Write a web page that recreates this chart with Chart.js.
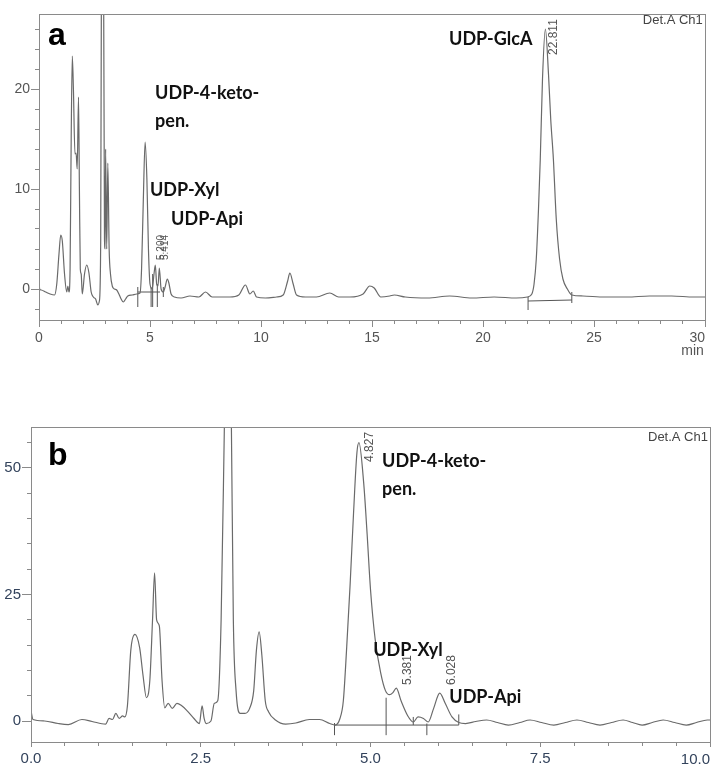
<!DOCTYPE html>
<html>
<head>
<meta charset="utf-8">
<script src="https://cdn.jsdelivr.net/npm/chart.js@4.4.0/dist/chart.umd.min.js"></script>
<style>
  html, body { margin: 0; padding: 0; background: #fff; }
  body { width: 711px; height: 769px; position: relative; overflow: hidden; }
  canvas { position: absolute; left: 0; }
  #chartA { top: 0; }
  #chartB { top: 380px; }
</style>
</head>
<body>
<canvas id="chartA" width="711" height="360"></canvas>
<canvas id="chartB" width="711" height="389"></canvas>
<script>
// ---- panel a : full run, 0-30 min ----
const timeA = [0, 0.03, 0.1, 0.3, 0.5, 0.7, 0.8, 0.9, 0.98, 1.05, 1.15, 1.25, 1.3, 1.35, 1.4, 1.45, 1.5, 1.55, 1.62, 1.67,
  1.72, 1.78, 1.82, 1.86, 1.9, 1.95, 2.05, 2.15, 2.25, 2.35, 2.45, 2.55, 2.65, 2.72, 2.78, 2.82, 2.86, 2.9, 2.95, 2.98,
  3.0, 3.05, 3.1, 3.16, 3.22, 3.3, 3.4, 3.5, 3.6, 3.7, 3.8, 3.9, 4.0, 4.2, 4.4, 4.55, 4.62, 4.7, 4.78, 4.86,
  4.93, 5.0, 5.1, 5.18, 5.24, 5.3, 5.36, 5.42, 5.5, 5.6, 5.68, 5.78, 5.85, 5.95, 6.1, 6.4, 6.8, 7.2, 7.5, 7.8,
  8.2, 8.6, 9.0, 9.3, 9.5, 9.65, 9.8, 10.2, 10.7, 11.0, 11.2, 11.3, 11.45, 11.6, 12.0, 12.5, 13.1, 13.5, 14.0, 14.6,
  14.9, 15.1, 15.4, 15.8, 16.0, 16.5, 17.5, 18.5, 19.5, 20.5, 21.5, 22.0, 22.2, 22.3, 22.4, 22.5, 22.58, 22.68, 22.81, 22.95,
  23.05, 23.17, 23.3, 23.45, 23.6, 23.8, 24.0, 24.5, 25.5, 26.5, 27.5, 28.5, 29.5, 30.0];
const signalA = [0.8, 0, -0.1, -0.3, -0.5, -0.6, 0.5, 3.5, 5.4, 4.8, 1.5, -0.3, 0.3, -0.3, 2, 15, 23.3, 20, 13.5, 13.6,
  12, 19.2, 10, 2, 1.5, -0.5, 1.5, 2.4, 1.6, -0.3, -0.8, -1.0, -1.6, -1.2, 5, 40, 80, 40, 5, 4,
  14, 4, 12.6, 4, 1.5, 0.3, 0, -0.1, -0.5, -1.0, -1.3, -1.0, -0.7, -0.6, -0.5, -0.4, 2, 9, 14.7, 11,
  4, 0.5, 0, 1.5, 2.4, 0.5, 0.3, 2.1, 0, -0.3, 0.2, 1.0, 0.6, -0.5, -0.8, -0.9, -0.7, -0.8, -0.3, -0.8,
  -0.8, -0.8, -0.6, 0.4, -0.5, -0.2, -0.8, -0.9, -0.8, -0.6, 0.8, 1.6, 0.5, -0.6, -0.8, -0.8, -0.4, -0.8, -0.8, -0.5,
  0.3, 0.1, -0.8, -0.7, -0.6, -0.8, -0.9, -0.7, -0.9, -0.8, -0.9, -0.8, -0.5, 0.5, 3, 8, 13, 21, 26, 21.5,
  17, 13, 7, 3, 1, 0, -0.6, -0.7, -0.8, -0.8, -0.7, -0.7, -0.8, -0.8];
// integration marks [x1, y1, x2, y2]
const marksA = [[4.45, -0.3, 5.45, -0.3], [4.45, -1.8, 4.45, 0.2], [5.05, -1.8, 5.05, 0.2], [5.12, -1.8, 5.12, 1.5],
  [5.33, -1.8, 5.33, 0.5], [5.6, -0.8, 5.6, 0.2], [22.03, -1.2, 24.0, -1.1], [22.03, -2.1, 22.03, -0.8], [24.0, -1.4, 24.0, -0.3]];
const xTicksA = [0, 5, 10, 15, 20, 25, 30];
const yTicksA = [0, 10, 20];

// ---- panel b : zoom, 0-10 min ----
const timeB = [0, 0.03, 0.2, 0.4, 0.55, 0.75, 0.9, 1.1, 1.15, 1.2, 1.25, 1.3, 1.35, 1.38, 1.42, 1.47, 1.53, 1.6, 1.65, 1.7,
  1.75, 1.79, 1.82, 1.85, 1.89, 1.93, 1.97, 2.02, 2.08, 2.15, 2.22, 2.3, 2.4, 2.48, 2.52, 2.55, 2.58, 2.65, 2.7, 2.75,
  2.8, 2.85, 2.9, 2.95, 2.98, 3.02, 3.08, 3.15, 3.22, 3.28, 3.32, 3.36, 3.4, 3.45, 3.5, 3.6, 3.75, 3.9, 4.1, 4.25,
  4.4, 4.48, 4.55, 4.6, 4.65, 4.7, 4.75, 4.8, 4.83, 4.9, 4.95, 5.0, 5.07, 5.15, 5.22, 5.28, 5.33, 5.38, 5.45, 5.55,
  5.63, 5.7, 5.78, 5.85, 5.93, 6.02, 6.1, 6.2, 6.3, 6.4, 6.55, 6.71, 6.87, 7.03, 7.2, 7.35, 7.52, 7.7, 7.87, 8.04,
  8.21, 8.38, 8.55, 8.72, 8.86, 9.0, 9.15, 9.31, 9.48, 9.65, 9.8, 9.96, 10.0];
const signalB = [2.0, 0.3, 0, -0.5, -0.7, 0.3, -0.1, -0.6, 0.5, 0.3, 1.5, 0.5, 1.0, 0.8, 3, 14, 17.1, 14.5, 9, 4.6,
  8, 20, 29.3, 20, 18.8, 8, 2.6, 3.5, 2.5, 3.5, 3.0, 2.0, 0.5, -0.5, 3.0, 0.5, -0.5, 0, 3.5, 4,
  20, 60, 100, 60, 20, 6, 1.5, 1.5, 2.5, 6, 14, 17.6, 13, 4, 1.8, 0.2, -0.6, -0.4, 0.3, 0.3,
  -0.5, -0.8, 0.5, 4, 14.7, 27, 41, 53, 55, 47, 37, 26, 16, 9.5, 6, 5.2, 5.6, 6.5, 4, 1,
  -0.2, 0.8, 0.5, -0.2, 2.5, 5.5, 3.5, 0.8, -0.3, -0.5, -0.1, 0.2, -0.3, -0.8, -0.3, 0.2, -0.3, -0.8, -0.3, 0.2,
  -0.3, -0.8, -0.3, 0.2, -0.3, -0.8, -0.3, 0.2, -0.3, -0.8, -0.3, 0.2, 0.2];
const marksB = [[4.47, -0.8, 6.3, -0.8], [4.47, -2.8, 4.47, -0.4], [5.23, -2.8, 5.23, 4.6], [5.63, -0.8, 5.63, 0.8],
  [5.83, -2.8, 5.83, -0.5], [6.3, -0.8, 6.3, 1.3]];
const xTicksB = [0, 2.5, 5, 7.5, 10];
const yTicksB = [0, 25, 50];

const traceColor = '#6a6a6a';
const frameColor = '#8a8a8a';

function toPoints(xs, ys) {
  return xs.map((x, i) => ({ x: x, y: ys[i] }));
}
function segPoints(segs) {
  const pts = [];
  segs.forEach(s => {
    pts.push({ x: s[0], y: s[1] }, { x: s[2], y: s[3] }, { x: s[2], y: null });
  });
  return pts;
}
function range(a, b, step) {
  const out = [];
  for (let v = a; v <= b + 1e-9; v += step) out.push(Math.round(v * 100) / 100);
  return out;
}

const framePlugin = {
  id: 'frame',
  afterDraw(chart) {
    const { ctx, chartArea: a } = chart;
    ctx.save();
    ctx.strokeStyle = frameColor;
    ctx.lineWidth = 1;
    ctx.strokeRect(Math.round(a.left) + 0.5, Math.round(a.top) + 0.5, Math.round(a.right - a.left), Math.round(a.bottom - a.top));
    ctx.restore();
  }
};

// free text: peak names, retention times, panel letters
const notesPlugin = {
  id: 'notes',
  afterDraw(chart, args, opts) {
    const { ctx, scales } = chart;
    ctx.save();
    (opts.items || []).forEach(n => {
      const x = scales.x.getPixelForValue(n.x);
      const y = scales.y.getPixelForValue(n.y);
      ctx.font = n.font;
      ctx.fillStyle = n.color || '#111';
      ctx.textBaseline = 'middle';
      ctx.textAlign = n.align || 'left';
      if (n.rotate) {
        ctx.save();
        ctx.translate(x, y);
        ctx.rotate(-Math.PI / 2);
        ctx.fillText(n.text, 0, 0);
        ctx.restore();
      } else {
        ctx.fillText(n.text, x, y);
      }
    });
    ctx.restore();
  }
};

function makeChart(id, cfg) {
  const isMajorX = v => cfg.xLabels.some(t => Math.abs(t - v) < 1e-6);
  const isMajorY = v => cfg.yLabels.some(t => Math.abs(t - v) < 1e-6);
  const lastX = cfg.xLabels[cfg.xLabels.length - 1];
  // last x label sits flush with the right frame, as in the instrument printout
  const notes = cfg.notes.concat([
    { text: cfg.xFmt(lastX), x: lastX, y: cfg.xLabelY, font: cfg.tickFont.size + 'px "Liberation Sans"', color: cfg.tickColor, align: 'right' }
  ]);
  return new Chart(document.getElementById(id), {
    type: 'line',
    data: {
      datasets: [
        {
          data: toPoints(cfg.time, cfg.signal),
          borderColor: traceColor,
          borderWidth: 1.2,
          pointRadius: 0,
          cubicInterpolationMode: 'monotone',
          fill: false
        },
        {
          data: segPoints(cfg.marks),
          borderColor: '#555',
          borderWidth: 1,
          pointRadius: 0,
          tension: 0,
          spanGaps: false
        }
      ]
    },
    options: {
      responsive: false,
      animation: false,
      events: [],
      layout: { padding: cfg.padding },
      plugins: {
        legend: { display: false },
        tooltip: { enabled: false },
        notes: { items: notes }
      },
      scales: {
        x: {
          type: 'linear',
          min: cfg.xMin,
          max: cfg.xMax,
          afterBuildTicks: ax => { ax.ticks = range(cfg.xMin, cfg.xMax, cfg.xMinor).map(v => ({ value: v })); },
          afterFit: ax => { ax.height = cfg.xAxisHeight; ax.paddingLeft = 0; ax.paddingRight = 0; },
          border: { display: false },
          grid: {
            drawOnChartArea: false,
            drawTicks: true,
            tickLength: cfg.xTick,
            color: frameColor,
            tickBorderDash: c => (c.tick && isMajorX(c.tick.value)) ? [] : [4, 100]
          },
          ticks: {
            autoSkip: false,
            maxRotation: 0,
            padding: cfg.xPad,
            color: cfg.tickColor,
            font: cfg.tickFont,
            callback: v => (isMajorX(v) && v !== lastX) ? cfg.xFmt(v) : ''
          }
        },
        y: {
          type: 'linear',
          min: cfg.yMin,
          max: cfg.yMax,
          afterBuildTicks: ax => { ax.ticks = range(cfg.yMinorStart, cfg.yMax, cfg.yMinor).map(v => ({ value: v })); },
          afterFit: ax => { ax.width = cfg.yAxisWidth; ax.paddingTop = 0; ax.paddingBottom = 0; },
          border: { display: false },
          grid: {
            drawOnChartArea: false,
            drawTicks: true,
            tickLength: cfg.yTick,
            color: frameColor,
            tickBorderDash: c => (c.tick && isMajorY(c.tick.value)) ? [] : [0, cfg.yTick - 4, 4, 100]
          },
          ticks: {
            autoSkip: false,
            padding: 1,
            color: cfg.tickColor,
            font: cfg.tickFont,
            callback: v => isMajorY(v) ? String(v) : ''
          }
        }
      }
    },
    plugins: [framePlugin, notesPlugin]
  });
}

const bold = 'bold 18px Lato';
const small = '12px "Liberation Sans"';

makeChart('chartA', {
  time: timeA, signal: signalA, marks: marksA,
  xMin: 0, xMax: 30, xMinor: 1, xLabels: xTicksA, xFmt: v => String(v), xLabelY: -4.9,
  yMin: -3.1, yMax: 27.5, yMinor: 2, yMinorStart: -2, yLabels: yTicksA,
  padding: { top: 14, right: 6, left: 0, bottom: 0 },
  xAxisHeight: 40, yAxisWidth: 39, xTick: 7, yTick: 8, xPad: 3,
  tickColor: '#555', tickFont: { family: 'Liberation Sans', size: 14 },
  notes: [
    { text: 'a', x: 0.4, y: 25.3, font: 'bold 32px "Liberation Sans"', color: '#000' },
    { text: 'UDP-4-keto-', x: 5.23, y: 19.6, font: bold },
    { text: 'pen.', x: 5.23, y: 16.8, font: bold },
    { text: 'UDP-Xyl', x: 5.0, y: 9.9, font: bold },
    { text: 'UDP-Api', x: 5.95, y: 7.0, font: bold },
    { text: 'UDP-GlcA', x: 18.47, y: 25.0, font: bold },
    { text: '22.811', x: 23.2, y: 23.4, font: small, color: '#555', rotate: true },
    { text: '5.200', x: 5.5, y: 2.9, font: '10px "Liberation Sans"', color: '#555', rotate: true },
    { text: '5.414', x: 5.7, y: 2.9, font: '10px "Liberation Sans"', color: '#555', rotate: true },
    { text: 'Det.A Ch1', x: 29.9, y: 26.9, font: '13px "Liberation Sans"', color: '#444', align: 'right' },
    { text: 'min', x: 29.95, y: -6.2, font: '14px "Liberation Sans"', color: '#555', align: 'right' }
  ]
});

makeChart('chartB', {
  time: timeB, signal: signalB, marks: marksB,
  xMin: 0, xMax: 10, xMinor: 0.5, xLabels: xTicksB, xFmt: v => v.toFixed(1), xLabelY: -7.6,
  yMin: -4.15, yMax: 58.1, yMinor: 5, yMinorStart: 0, yLabels: yTicksB,
  padding: { top: 47, right: 1, left: 0, bottom: 0 },
  xAxisHeight: 27, yAxisWidth: 31, xTick: 5, yTick: 9, xPad: 3,
  tickColor: '#33435c', tickFont: { family: 'Liberation Sans', size: 15 },
  notes: [
    { text: 'b', x: 0.25, y: 52.4, font: 'bold 32px "Liberation Sans"', color: '#000' },
    { text: 'UDP-4-keto-', x: 5.17, y: 51.4, font: bold },
    { text: 'pen.', x: 5.17, y: 45.8, font: bold },
    { text: 'UDP-Xyl', x: 5.04, y: 14.0, font: bold },
    { text: 'UDP-Api', x: 6.16, y: 4.7, font: bold },
    { text: '4.827', x: 4.99, y: 51.2, font: small, color: '#555', rotate: true },
    { text: '5.381', x: 5.545, y: 7.1, font: small, color: '#555', rotate: true },
    { text: '6.028', x: 6.19, y: 7.1, font: small, color: '#555', rotate: true },
    { text: 'Det.A Ch1', x: 9.97, y: 56.1, font: '13px "Liberation Sans"', color: '#444', align: 'right' }
  ]
});
</script>
</body>
</html>
